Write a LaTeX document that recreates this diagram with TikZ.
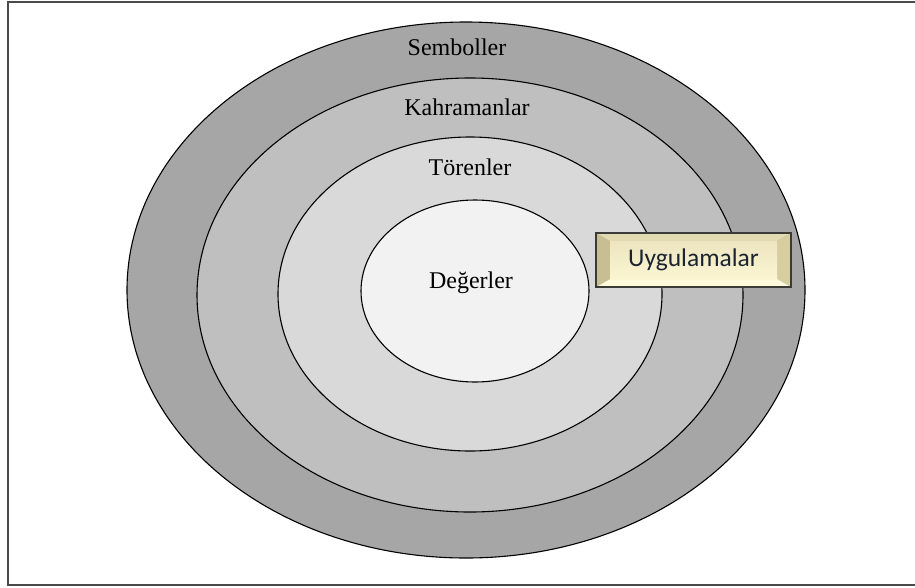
\documentclass[tikz,border=0pt]{standalone}
\usepackage{fontspec}
\setmainfont{Liberation Serif}
\newfontfamily\boxfont{Carlito}
\usetikzlibrary{shapes.geometric}

\definecolor{ringA}{HTML}{A6A6A6}
\definecolor{ringB}{HTML}{BFBFBF}
\definecolor{ringC}{HTML}{D9D9D9}
\definecolor{ringD}{HTML}{F2F2F2}
\definecolor{frameedge}{HTML}{4A4A4A}
\definecolor{boxedge}{HTML}{3A3A36}
\definecolor{boxtext}{HTML}{1C2430}
\definecolor{bevtop}{HTML}{E2DAB0}
\definecolor{bevleft}{HTML}{C7BE93}
\definecolor{bevright}{HTML}{D6CDA1}
\definecolor{bevbot}{HTML}{FFFADB}
\definecolor{facetop}{HTML}{ECE5C0}
\definecolor{facebot}{HTML}{FCF5D2}

\tikzset{
  ring/.style={ellipse, draw=black, line width=1.1pt, inner sep=0pt},
  ringlabel/.style={anchor=base, font=\fontsize{24}{27}\selectfont, text=black},
  bevelbox/.style={draw=boxedge, line width=2.8pt, minimum width=195,
    minimum height=54, inner sep=0pt, text=boxtext,
    font=\boxfont\fontsize{25.5}{29}\selectfont,
    path picture={
      \path (path picture bounding box.north west) coordinate (p1)
            (path picture bounding box.north east) coordinate (p2)
            (path picture bounding box.south east) coordinate (p3)
            (path picture bounding box.south west) coordinate (p4)
            ([xshift=14pt,yshift=-8pt]path picture bounding box.north west) coordinate (q1)
            ([xshift=-14pt,yshift=-8pt]path picture bounding box.north east) coordinate (q2)
            ([xshift=-14pt,yshift=8pt]path picture bounding box.south east) coordinate (q3)
            ([xshift=14pt,yshift=8pt]path picture bounding box.south west) coordinate (q4);
      \fill[bevtop] (p1) -- (p2) -- (q2) -- (q1) -- cycle;
      \fill[bevright] (p2) -- (p3) -- (q3) -- (q2) -- cycle;
      \fill[bevbot] (p3) -- (p4) -- (q4) -- (q3) -- cycle;
      \fill[bevleft] (p4) -- (p1) -- (q1) -- (q4) -- cycle;
      \shade[top color=facetop, bottom color=facebot] (q1) rectangle (q3);
    }}
}

\begin{document}
\begin{tikzpicture}[x=1pt,y=-1pt]
  \useasboundingbox (0,0) rectangle (915,587);
  \draw[line width=2pt, frameedge] (8,2) rectangle (920,585);

  % rings, outside to inside
  \node[ring, fill=ringA, minimum width=678, minimum height=536] (semb) at (466,290) {};
  \node[ring, fill=ringB, minimum width=546, minimum height=434] (kahr) at (470,295) {};
  \node[ring, fill=ringC, minimum width=384, minimum height=314] (toren) at (470,294) {};
  \node[ring, fill=ringD, minimum width=228, minimum height=182] (deger) at (475,291) {};

  \node[ringlabel] (lsemb) at (457,55) {Semboller};
  \node[ringlabel] (lkahr) at (467,115) {Kahramanlar};
  \node[ringlabel] (ltoren) at (470,175) {Törenler};
  \node[ringlabel] (ldeger) at (471,288) {Değerler};

  \node[bevelbox] (uyg) at (693.5,260) {Uygulamalar};
\end{tikzpicture}
\end{document}
